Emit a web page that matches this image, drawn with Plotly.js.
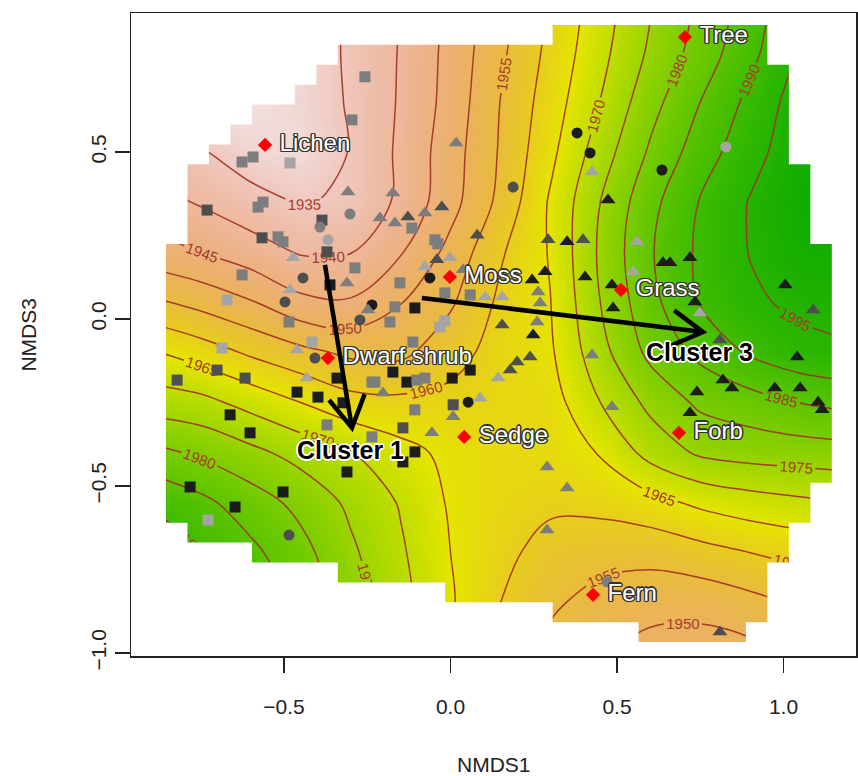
<!DOCTYPE html>
<html><head><meta charset="utf-8">
<script src="https://cdn.plot.ly/plotly-3.0.1.min.js"></script>
<style>html,body{margin:0;padding:0;background:#fff;}#chart{width:858px;height:776px;}</style>
</head><body><div id="chart"></div>
<script>
// ---- fitted surface (year), values at grid nodes ----
const surfX = [-0.9,-0.75,-0.6,-0.45,-0.3,-0.15,0,0.15,0.3,0.45,0.6,0.75,0.9,1.05,1.2];
const surfY = [-1.0,-0.85,-0.7,-0.55,-0.4,-0.25,-0.1,0.05,0.2,0.35,0.5,0.65,0.8,0.95];
const surfZ = [
 [2003,1997,1991,1985,1978,1971,1964,1958,1953.5,1950.5,1948,1947.5,1948.5,1952.5,1955],
 [2002,1995,1989.5,1983.5,1977.5,1971.5,1965.5,1960.0,1955.8,1953.2,1951.9,1951.8,1953.5,1955.8,1958],
 [1996,1990,1986.2,1981.7,1975.9,1970.7,1965.0,1961.4,1958.0,1956.8,1956.6,1958.2,1960.0,1961.5,1962.5],
 [1989.5,1986.3,1982.4,1978.6,1974.0,1969.6,1964.4,1962.0,1961.0,1961.5,1963.3,1966.0,1967.8,1969.0,1970],
 [1981.5,1979.1,1976.3,1973.2,1970.2,1966.6,1963.8,1962.6,1962.8,1965.3,1971.8,1975.8,1977,1977.5,1978],
 [1972.5,1971.5,1968.3,1965.0,1961.8,1961.2,1961.5,1962,1962.8,1970.0,1976.3,1981.0,1982.9,1985.1,1986.5],
 [1965.5,1962.6,1959.2,1956.4,1954.0,1953.8,1958,1962,1964.3,1973.3,1981.3,1986.3,1990.7,1993.5,1994.5],
 [1956,1953.4,1950.4,1946.2,1945.5,1949.8,1954.3,1961.0,1964.9,1975.0,1983.5,1990.3,1994.2,1996,1996.5],
 [1947,1945.0,1942.2,1939.6,1939.8,1944.6,1951.5,1959.4,1965.4,1975.8,1984.5,1991,1995.2,1998,1999],
 [1942,1939.5,1937,1934.6,1935.8,1941.0,1948.2,1956.3,1965.6,1975.0,1983.5,1990.3,1995.3,1999,2001],
 [1938,1935.5,1932,1930.5,1935.3,1940.9,1947.7,1955.5,1963.8,1972.5,1980.7,1987.5,1993.3,1998,2002],
 [1928,1928.5,1929.5,1932,1935.5,1940.5,1946.8,1955.1,1962.5,1970.1,1978.2,1985,1991.3,1997.5,2002],
 [1927,1927.5,1928.5,1931,1936,1940.3,1946.5,1954,1961.4,1968.5,1975.8,1982.1,1988.6,1995.5,2001],
 [1926,1926.5,1927.5,1930,1936,1940,1946,1953,1960.5,1967.5,1974.5,1981,1987.5,1994,2000]
];
// ---- hull of the fitted grid (31 x 31 cells): first / last column per row, top row first ----
const gridX0 = -0.8544, gridDX = 0.0645, gridY0 = 0.8802, gridDY = 0.0596;
const hullFirst = [18,8,7,6,4,3,2,1,1,1,1,0,0,0,0,0,0,0,0,0,0,0,0,0,0,1,4,8,13,18,22];
const hullLast  = [27,27,28,28,28,28,28,29,29,29,29,30,30,30,30,30,30,30,30,30,30,30,30,29,29,28,28,27,27,27,26];

// ---- site scores: shade 0 black, 1 dark grey, 2 grey, 3 light grey ----
const sqX = [-0.257,-0.296,-0.626,-0.593,-0.482,-0.578,-0.563,-0.731,-0.386,-0.566,-0.518,-0.503,-0.371,-0.287,-0.362,-0.626,-0.671,-0.485,-0.416,-0.686,-0.341,-0.701,-0.821,-0.617,-0.461,-0.398,-0.323,-0.662,-0.602,-0.371,-0.236,-0.236,-0.311,-0.782,-0.647,-0.503,-0.728,-0.116,-0.047,-0.038,-0.152,-0.017,0.059,-0.107,-0.167,-0.182,-0.032,-0.017,-0.113,-0.173,-0.131,-0.101,0.005,0.059,-0.227,-0.077,0.008,-0.107,-0.143,-0.107,-0.143];
const sqY = [0.725,0.596,0.470,0.485,0.467,0.335,0.350,0.326,0.296,0.243,0.246,0.231,0.201,0.153,0.102,0.132,0.057,-0.009,-0.069,-0.087,-0.177,-0.153,-0.183,-0.177,-0.219,-0.234,-0.251,-0.287,-0.341,-0.317,-0.189,-0.353,-0.458,-0.503,-0.563,-0.518,-0.602,0.272,0.237,0.225,0.108,0.078,0.072,0.033,0.036,-0.009,-0.024,-0.006,-0.069,-0.159,-0.189,-0.183,-0.177,-0.153,-0.189,-0.177,-0.257,-0.272,-0.326,-0.398,-0.428];
const sqShade = [2,2,2,2,3,2,2,1,1,1,2,2,1,2,0,2,3,2,3,3,0,1,1,1,0,0,0,0,0,2,2,2,0,0,0,0,3,2,2,2,2,2,2,0,2,2,3,3,2,0,0,2,0,0,2,2,1,2,1,0,0];

const ciX = [-0.302,-0.392,-0.368,-0.443,-0.497,-0.272,-0.407,-0.485,0.380,0.419,0.188,-0.062,-0.236,0.053,0.635,0.827,0.470];
const ciY = [0.314,0.275,0.237,0.123,0.051,-0.003,-0.117,-0.647,0.557,0.497,0.395,0.123,0.042,-0.249,0.446,0.515,-0.787];
const ciShade = [2,2,3,1,1,1,1,1,0,0,1,0,0,0,0,3,2];

const trX = [-0.308,-0.473,-0.311,-0.482,-0.248,-0.461,-0.431,0.017,0.425,0.473,-0.173,-0.026,-0.212,-0.128,-0.077,-0.167,0.080,-0.041,-0.077,-0.002,0.038,0.104,0.155,0.155,0.248,0.263,0.269,0.245,0.284,0.293,0.350,0.398,0.404,0.260,0.239,0.200,0.179,0.143,0.425,-0.203,0.008,0.089,-0.056,0.485,0.560,0.548,0.638,0.659,0.719,0.488,0.485,1.005,0.734,0.749,1.089,0.809,1.041,0.818,0.845,0.974,1.050,1.104,1.116,0.740,0.719,0.290,0.350,0.290,0.809];
const trY = [0.380,0.183,0.108,0.087,0.027,-0.093,-0.177,0.527,0.440,0.356,0.377,0.335,0.302,0.305,0.317,0.287,0.251,0.177,0.156,0.183,0.147,0.066,0.066,-0.018,-0.048,0.081,0.048,0.117,0.141,0.237,0.231,0.237,0.126,-0.009,-0.114,-0.129,-0.153,-0.177,-0.108,-0.222,-0.293,-0.237,-0.341,-0.263,0.231,0.141,0.168,0.168,0.183,0.033,0.102,0.102,0.051,0.018,0.027,-0.063,-0.114,-0.183,-0.207,-0.207,-0.207,-0.249,-0.272,-0.219,-0.281,-0.443,-0.506,-0.632,-0.937];
const trShade = [2,3,2,3,2,3,3,2,3,0,2,1,2,1,2,2,1,1,3,3,2,3,3,1,0,2,2,0,0,1,0,1,0,2,1,1,1,3,2,2,2,3,2,2,3,3,0,0,0,0,0,0,0,3,1,1,0,0,0,0,0,0,0,0,0,2,2,2,1];

// ---- species (red diamonds) ----
const speciesNames = ['Lichen','Moss','Grass','Tree','Dwarf.shrub','Sedge','Forb','Fern'];
const speciesX = [-0.557,-0.002,0.512,0.704,-0.368,0.041,0.686,0.428];
const speciesY = [0.521,0.126,0.087,0.844,-0.117,-0.353,-0.341,-0.826];

// ---- cluster arrows and labels ----
const clusterNames = ['Cluster 1','Cluster 3'];
const arrowFromX = [-0.377,-0.086], arrowFromY = [0.162,0.063];
const arrowToX = [-0.296,0.758], arrowToY = [-0.326,-0.039];
const clusterLabelX = [-0.299,0.749], clusterLabelY = [-0.392,-0.099];

const xTicks = [-0.5,0,0.5,1.0], xTickText = ['\u22120.5','0.0','0.5','1.0'];
const yTicks = [-1.0,-0.5,0,0.5], yTickText = ['\u22121.0','\u22120.5','0.0','0.5'];

// ---- styling ----
const FONT = 'Liberation Sans, Arial, sans-serif';
const shadeColors = ['#1c1c1c','#4e4e4e','#7d7d7d','#a5a5a5'];
const X_RANGE = [-0.9595,1.2177], Y_RANGE = [-1.009,0.916];
const MARGIN = {l:131, r:2, t:13, b:120}, W = 858, H = 776;
function hsv(h,s,v){
  const c=v*s, hp=h/60, x=c*(1-Math.abs(hp%2-1)); let r=0,g=0,b=0;
  if(hp<1){r=c;g=x;}else if(hp<2){r=x;g=c;}else{g=c;b=x;}
  const m=v-c; return 'rgb('+Math.round((r+m)*255)+','+Math.round((g+m)*255)+','+Math.round((b+m)*255)+')';
}
// reversed R terrain.colors: white (low) -> tan -> yellow -> green (high)
const terrain=[];
for(let i=0;i<=40;i++){
  const f=i/40; let col;
  if(f<=0.5){const t=f/0.5; col=hsv(60*t,t,0.95-0.05*t);}
  else{const u=(f-0.5)/0.5; col=hsv(60+60*u,1,0.9-0.25*u);}
  terrain.push([f,col]);
}
const outline = (c,w) => ['-'+w+'px -'+w+'px 0 '+c, w+'px -'+w+'px 0 '+c, '-'+w+'px '+w+'px 0 '+c, w+'px '+w+'px 0 '+c,
  '0 -'+(w*1.4)+'px 0 '+c, '0 '+(w*1.4)+'px 0 '+c, '-'+(w*1.4)+'px 0 0 '+c, (w*1.4)+'px 0 0 '+c].join(', ');

// mask polygon outside the hull
const hx=[],hy=[];
for(let j=0;j<hullFirst.length;j++){const xr=gridX0+(hullLast[j]+1)*gridDX; hx.push(xr,xr); hy.push(gridY0-j*gridDY,gridY0-(j+1)*gridDY);}
for(let j=hullFirst.length-1;j>=0;j--){const xl=gridX0+hullFirst[j]*gridDX; hx.push(xl,xl); hy.push(gridY0-(j+1)*gridDY,gridY0-j*gridDY);}
hx.push(hx[0]); hy.push(hy[0]);
const maskX=[-5,-5,5,5,-5].concat(hx,[-5]);
const maskY=[5,-5,-5,5,5].concat(hy,[5]);

// arrows: shafts and open V heads (head geometry in pixel space)
const pxX = (W-MARGIN.l-MARGIN.r)/(X_RANGE[1]-X_RANGE[0]);
const pxY = (H-MARGIN.t-MARGIN.b)/(Y_RANGE[1]-Y_RANGE[0]);
const HEAD_LEN = 36, HEAD_ANG = 30*Math.PI/180;
const arrX=[], arrY=[];
for(let i=0;i<arrowFromX.length;i++){
  arrX.push(arrowFromX[i], arrowToX[i], null); arrY.push(arrowFromY[i], arrowToY[i], null);
  const dx=(arrowFromX[i]-arrowToX[i])*pxX, dy=(arrowFromY[i]-arrowToY[i])*pxY, L=Math.hypot(dx,dy);
  const ux=dx/L, uy=dy/L;
  const arm = s => { const c=Math.cos(s*HEAD_ANG), sn=Math.sin(s*HEAD_ANG);
    return [arrowToX[i]+HEAD_LEN*(ux*c-uy*sn)/pxX, arrowToY[i]+HEAD_LEN*(ux*sn+uy*c)/pxY]; };
  const a1=arm(1), a2=arm(-1);
  arrX.push(a1[0], arrowToX[i], a2[0], null); arrY.push(a1[1], arrowToY[i], a2[1], null);
}

const traces = [
 {type:'contour', x:surfX, y:surfY, z:surfZ, zauto:false, zmin:1927, zmax:2003,
  colorscale:terrain, showscale:false, hoverinfo:'skip',
  contours:{coloring:'heatmap', start:1935, end:1995, size:5, showlabels:true,
            labelfont:{family:FONT,size:15,color:'rgb(165,60,45)'}},
  line:{color:'rgba(158,48,35,0.9)', width:1.5, smoothing:1}},
 {type:'scatter', mode:'lines', x:maskX, y:maskY, fill:'toself', fillcolor:'#ffffff',
  line:{width:0,color:'rgba(0,0,0,0)'}, hoverinfo:'skip'},
 {type:'scatter', mode:'markers', x:sqX, y:sqY,
  marker:{symbol:'square', size:11, color:sqShade.map(s=>shadeColors[s]), line:{width:0}}},
 {type:'scatter', mode:'markers', x:ciX, y:ciY,
  marker:{symbol:'circle', size:11, color:ciShade.map(s=>shadeColors[s]), line:{width:0}}},
 {type:'scatter', mode:'markers', x:trX, y:trY,
  marker:{symbol:'triangle-up', size:13, color:trShade.map(s=>shadeColors[s]), line:{width:0}}},
 {type:'scatter', mode:'lines', x:arrX, y:arrY, line:{color:'#000000', width:4.5}, hoverinfo:'skip'},
 {type:'scatter', mode:'markers+text', x:speciesX, y:speciesY, text:speciesNames.map(s=>'\u00a0'+s),
  textposition:'middle right',
  textfont:{family:FONT, size:24, color:'#ffffff', shadow:outline('#333333',1)},
  marker:{symbol:'diamond', size:11, color:'#ff0000', line:{width:0}}}
];

const annotations = [];
for(let i=0;i<clusterNames.length;i++){
  annotations.push({x:clusterLabelX[i], y:clusterLabelY[i], xref:'x', yref:'y', text:clusterNames[i],
    showarrow:false, font:{family:FONT, size:25, color:'#000000', weight:'bold', shadow:outline('#ffffff',1.2)}});
}
annotations.push({xref:'paper', yref:'paper', x:0.5, y:-0.1695, text:'NMDS1', showarrow:false,
  xanchor:'center', yanchor:'middle', font:{family:FONT,size:21,color:'#222'}});
annotations.push({xref:'paper', yref:'paper', x:-0.142, y:0.5, text:'NMDS3', showarrow:false, textangle:-90,
  xanchor:'center', yanchor:'middle', font:{family:FONT,size:21,color:'#222'}});

const axisCommon = {showgrid:false, zeroline:false, showline:true, mirror:true, linecolor:'#222', linewidth:1.5,
  ticks:'outside', ticklen:15, tickwidth:1.3, tickcolor:'#222', tickfont:{family:FONT,size:21,color:'#222'}};

const layout = {
  width:W, height:H, margin:MARGIN,
  paper_bgcolor:'#ffffff', plot_bgcolor:'#ffffff', showlegend:false, hovermode:false,
  xaxis:Object.assign({}, axisCommon, {range:X_RANGE, tickvals:xTicks, ticktext:xTickText, ticklabelstandoff:16}),
  yaxis:Object.assign({}, axisCommon, {range:Y_RANGE, tickvals:yTicks, ticktext:yTickText, tickangle:-90}),
  annotations:annotations
};
Plotly.newPlot('chart', traces, layout, {staticPlot:true});
</script></body></html>
